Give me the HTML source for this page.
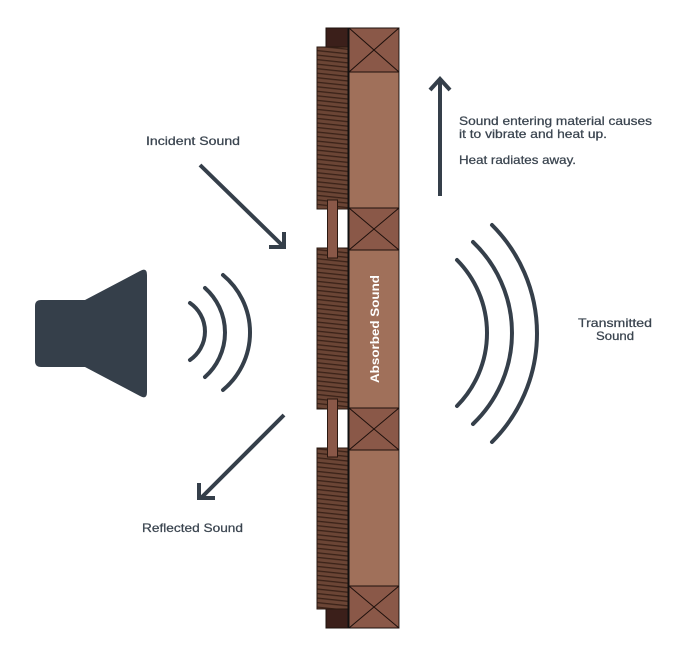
<!DOCTYPE html>
<html>
<head>
<meta charset="utf-8">
<style>
  html,body{margin:0;padding:0;background:#fff;}
  svg{display:block;}
  text{font-family:"Liberation Sans",sans-serif;}
</style>
</head>
<body>
<svg width="692" height="659" viewBox="0 0 692 659" xmlns="http://www.w3.org/2000/svg">
  <defs>
    <pattern id="hatch" patternUnits="userSpaceOnUse" width="40" height="4.5" patternTransform="rotate(6)">
      <rect width="40" height="4.5" fill="#6b4535"/>
      <rect y="3" width="40" height="1.3" fill="#3a2218"/>
    </pattern>
  </defs>

  <!-- Speaker -->
  <path d="M41,300 H85 L140,271 Q147,267 147,275 V392 Q147,400 140,396 L85,367 H41 Q35,367 35,361 V306 Q35,300 41,300 Z" fill="#353f4a"/>
  <!-- Speaker arcs -->
  <g fill="none" stroke="#353f4a" stroke-width="4" stroke-linecap="round">
    <path d="M190,303 A34.6,34.6 0 0 1 190,360"/>
    <path d="M205,288 A59.5,59.5 0 0 1 205,377"/>
    <path d="M223,275 A74.7,74.7 0 0 1 223,390"/>
  </g>

  <!-- Transmitted arcs -->
  <g fill="none" stroke="#353f4a" stroke-width="4" stroke-linecap="round">
    <path d="M457,260 A103.8,103.8 0 0 1 457,406"/>
    <path d="M473,242 A125.7,125.7 0 0 1 473,424"/>
    <path d="M492,225 A153.3,153.3 0 0 1 492,442"/>
  </g>

  <!-- Arrows -->
  <g fill="none" stroke="#353f4a" stroke-width="4">
    <line x1="440" y1="80" x2="440" y2="196"/>
    <polyline points="430,90 440,79 450,90" stroke-linejoin="miter"/>
    <line x1="200" y1="165" x2="283" y2="246"/>
    <polyline points="269,247 284,247 284,232" stroke-linejoin="miter"/>
    <line x1="284" y1="415" x2="201" y2="498"/>
    <polyline points="199,483 199,498 215,498" stroke-linejoin="miter"/>
  </g>

  <!-- Wall: dark squares -->
  <rect x="326" y="28" width="23" height="19" fill="#3b1f1a" stroke="#1e100c" stroke-width="1"/>
  <rect x="326" y="609" width="23" height="19" fill="#3b1f1a" stroke="#1e100c" stroke-width="1"/>

  <!-- Hatched panels -->
  <g stroke="#2a1810" stroke-width="1">
    <rect x="317" y="47" width="32" height="162" fill="url(#hatch)"/>
    <rect x="317" y="248" width="32" height="161" fill="url(#hatch)"/>
    <rect x="317" y="448" width="32" height="161" fill="url(#hatch)"/>
  </g>

  <!-- Tabs -->
  <g fill="#8a5848" stroke="#2a1810" stroke-width="1">
    <rect x="327.5" y="200" width="10" height="58"/>
    <rect x="327.5" y="399" width="10" height="58"/>
  </g>

  <!-- Right column -->
  <g stroke="#1e100c" stroke-width="1">
    <rect x="349" y="72" width="50" height="136" fill="#a0705a"/>
    <rect x="349" y="250" width="50" height="158" fill="#a0705a"/>
    <rect x="349" y="450" width="50" height="136" fill="#a0705a"/>
    <rect x="349" y="28" width="50" height="44" fill="#8a5848"/>
    <rect x="349" y="208" width="50" height="42" fill="#8a5848"/>
    <rect x="349" y="408" width="50" height="42" fill="#8a5848"/>
    <rect x="349" y="586" width="50" height="42" fill="#8a5848"/>
    <path d="M349,28 L399,72 M399,28 L349,72 M349,208 L399,250 M399,208 L349,250 M349,408 L399,450 M399,408 L349,450 M349,586 L399,628 M399,586 L349,628" fill="none"/>
  </g>
  <line x1="399.5" y1="28" x2="399.5" y2="628" stroke="#9a9a9a" stroke-width="1"/>
  <line x1="348.5" y1="28" x2="348.5" y2="628" stroke="#111" stroke-width="2"/>

  <!-- Absorbed Sound label -->
  <text transform="translate(379,383) rotate(-90)" font-size="12" font-weight="bold" fill="#ffffff" textLength="108" lengthAdjust="spacingAndGlyphs">Absorbed Sound</text>

  <!-- Labels -->
  <g fill="#3a444f" stroke="#3a444f" stroke-width="0.25" font-size="12">
    <text x="146" y="145" textLength="94" lengthAdjust="spacingAndGlyphs">Incident Sound</text>
    <text x="142" y="532" textLength="101" lengthAdjust="spacingAndGlyphs">Reflected Sound</text>
    <text x="578" y="327" textLength="74" lengthAdjust="spacingAndGlyphs">Transmitted</text>
    <text x="596" y="340" textLength="38" lengthAdjust="spacingAndGlyphs">Sound</text>
    <text x="459" y="125" textLength="193" lengthAdjust="spacingAndGlyphs">Sound entering material causes</text>
    <text x="459" y="138" textLength="148" lengthAdjust="spacingAndGlyphs">it to vibrate and heat up.</text>
    <text x="459" y="164" textLength="117" lengthAdjust="spacingAndGlyphs">Heat radiates away.</text>
  </g>
</svg>
</body>
</html>
